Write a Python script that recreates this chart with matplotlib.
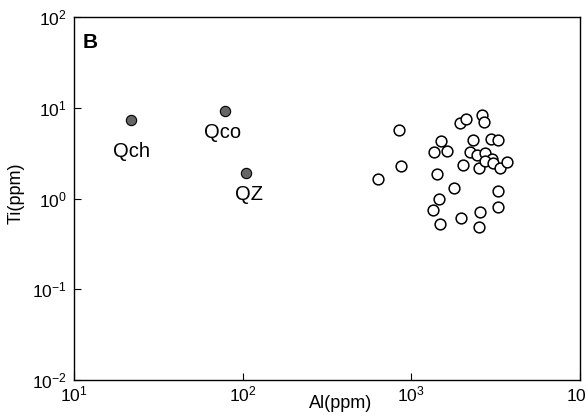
import matplotlib
matplotlib.use("Agg")
import matplotlib.pyplot as plt
from matplotlib.ticker import LogLocator, NullLocator

plt.rcParams['font.family'] = ['Liberation Sans', 'DejaVu Sans']
plt.rcParams['mathtext.fontset'] = 'custom'
plt.rcParams['mathtext.rm'] = 'Liberation Sans'
plt.rcParams['axes.unicode_minus'] = False

# reference minerals (grey)
ref_names = ["Qch", "Qco", "QZ"]
ref_al = [21.9, 78.3, 105]
ref_ti = [7.4, 9.3, 1.9]
ref_offsets = [(0, -23), (-1.5, -15.5), (2, -15)]

# samples (open circles)
al = [841, 872, 637, 1499, 1356, 1620, 1419, 1782, 1466, 1343, 1487,
      1970, 2543, 2509, 3283, 3283, 1954, 2101, 2624, 2686, 2320, 2984,
      3283, 2227, 2451, 2749, 3008, 2035, 2509, 2723, 3037, 3356, 3678]
ti = [5.68, 2.28, 1.62, 4.29, 3.27, 3.33, 1.86, 1.31, 0.99, 0.74, 0.53,
      0.61, 0.71, 0.48, 1.22, 0.80, 6.83, 7.43, 8.37, 6.96, 4.40, 4.55,
      4.44, 3.25, 2.98, 3.17, 2.74, 2.34, 2.16, 2.56, 2.48, 2.16, 2.52]

fig = plt.figure(figsize=(5.86, 4.17), dpi=100)
ax = fig.add_axes([0.1263, 0.0887, 0.8635, 0.8705])

ax.scatter(al, ti, s=60, facecolors='white', edgecolors='black', linewidths=1.1, zorder=3)
ax.scatter(ref_al, ref_ti, s=55, facecolors='#666666', edgecolors='black', linewidths=0.8, zorder=3)
for name, x, y, off in zip(ref_names, ref_al, ref_ti, ref_offsets):
    ax.annotate(name, (x, y), xytext=off, textcoords='offset points',
                ha='center', va='center', fontsize=14.5)

ax.set_xscale('log')
ax.set_yscale('log')
ax.set_xlim(10, 1e4)
ax.set_ylim(1e-2, 1e2)
ax.xaxis.set_major_locator(LogLocator(base=10, numticks=10))
ax.yaxis.set_major_locator(LogLocator(base=10, numticks=10))
ax.xaxis.set_minor_locator(NullLocator())
ax.yaxis.set_minor_locator(NullLocator())
ax.tick_params(direction='in', length=5, width=0.8, labelsize=12.6)
ax.tick_params(axis='x', pad=3)
ax.tick_params(axis='y', pad=5)

for sp in ax.spines.values():
    sp.set_linewidth(1.0)

ax.set_xlabel("Al(ppm)", fontsize=13)
ax.xaxis.set_label_coords(0.526, -0.041)
ax.set_ylabel("Ti(ppm)", fontsize=13)
ax.yaxis.set_label_coords(-0.097, 0.515)
ax.text(0.018, 0.914, "B", transform=ax.transAxes, fontsize=15, fontweight='bold',
        ha='left', va='baseline')

fig.savefig("out.png", dpi=100)
